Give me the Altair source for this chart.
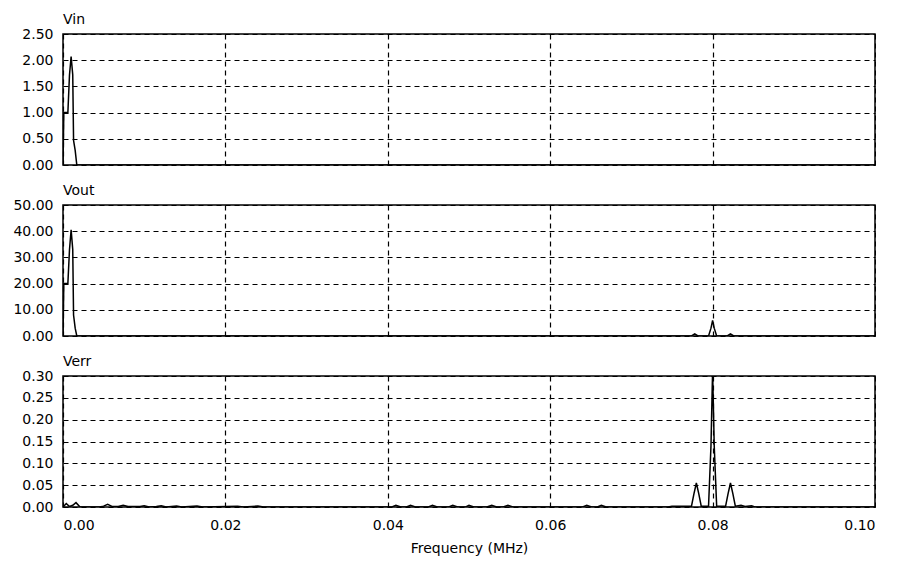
import altair as alt
import pandas as pd

# ---- data ----
x_ticks = [0.0, 0.02, 0.04, 0.06, 0.08, 0.10]

vin_freq = [0.0, 0.0001, 0.0006, 0.0008, 0.0010, 0.0012, 0.0013, 0.0015, 0.0017, 0.1]
vin_val = [0.0, 1.0, 1.0, 1.72, 2.07, 1.72, 0.47, 0.28, 0.0, 0.0]

vout_freq = [0.0, 0.0001, 0.0006, 0.0008, 0.0010, 0.0012, 0.0013, 0.0015, 0.0017,
             0.0774, 0.0778, 0.0782, 0.0795, 0.0798, 0.0800, 0.0802, 0.0805,
             0.0818, 0.0822, 0.0826, 0.1]
vout_val = [0.0, 20.0, 20.0, 33.0, 40.5, 33.0, 8.0, 3.0, 0.0,
            0.0, 0.8, 0.0, 0.0, 3.0, 6.0, 3.0, 0.0,
            0.0, 0.8, 0.0, 0.0]

verr_freq = [0.0, 0.0004, 0.0008, 0.0012, 0.0016, 0.0021, 0.0045, 0.0050, 0.0055, 0.0061,
             0.0068, 0.0074, 0.0080, 0.0095, 0.0100, 0.0106, 0.0115, 0.0121, 0.0127,
             0.0140, 0.0146, 0.0165, 0.0172, 0.0215, 0.0222, 0.0240, 0.0247,
             0.0405, 0.0410, 0.0416, 0.0423, 0.0428, 0.0434, 0.0450, 0.0455, 0.0461,
             0.0475, 0.0480, 0.0486, 0.0496, 0.0500, 0.0506, 0.0522, 0.0528, 0.0534,
             0.0542, 0.0548, 0.0554, 0.0640, 0.0645, 0.0651, 0.0658, 0.0663, 0.0669,
             0.0745, 0.0750, 0.0774, 0.0777, 0.0780, 0.0783, 0.0786,
             0.0795, 0.0798, 0.07995, 0.0800, 0.08005, 0.0802, 0.0805,
             0.0816, 0.0819, 0.0822, 0.0825, 0.0828, 0.0835, 0.0840, 0.0848, 0.0852, 0.0856, 0.1]
verr_val = [0.0, 0.008, 0.001, 0.004, 0.010, 0.0, 0.0, 0.002, 0.006, 0.001,
            0.001, 0.004, 0.001, 0.001, 0.003, 0.0, 0.001, 0.003, 0.0,
            0.002, 0.0, 0.002, 0.0, 0.002, 0.0, 0.002, 0.0,
            0.0, 0.004, 0.0, 0.0, 0.004, 0.0, 0.0, 0.004, 0.0,
            0.0, 0.004, 0.0, 0.0, 0.004, 0.0, 0.0, 0.004, 0.0,
            0.0, 0.004, 0.0, 0.0, 0.004, 0.0, 0.0, 0.004, 0.0,
            0.0, 0.002, 0.002, 0.03, 0.055, 0.03, 0.002,
            0.002, 0.14, 0.27, 0.31, 0.27, 0.14, 0.002,
            0.002, 0.03, 0.055, 0.03, 0.002, 0.004, 0.001, 0.003, 0.0, 0.0, 0.0]

panels = [
    ("Vin", vin_freq, vin_val, [0, 2.5], [0, 0.5, 1.0, 1.5, 2.0, 2.5]),
    ("Vout", vout_freq, vout_val, [0, 50], [0, 10, 20, 30, 40, 50]),
    ("Verr", verr_freq, verr_val, [0, 0.3], [0, 0.05, 0.10, 0.15, 0.20, 0.25, 0.30]),
]

FONT = "DejaVu Sans"
W, H = 812, 131

charts = []
for i, (name, fx, fy, dom, yticks) in enumerate(panels):
    df = pd.DataFrame({"f": fx, "v": fy})
    last = i == len(panels) - 1
    if last:
        xaxis = alt.Axis(values=x_ticks, format=".2f", title="Frequency (MHz)",
                         labelPadding=11, titlePadding=9, titleFontSize=14,
                         titleFontWeight="normal", titleFont=FONT, titleColor="black")
    else:
        xaxis = alt.Axis(values=x_ticks, labels=False, title=None,
                         minExtent=0, maxExtent=0)
    c = alt.Chart(df).mark_line(color="black", strokeWidth=1.5, clip=True,
                                interpolate="linear").encode(
        x=alt.X("f:Q", scale=alt.Scale(domain=[0, 0.1], nice=False), axis=xaxis),
        y=alt.Y("v:Q", scale=alt.Scale(domain=dom, nice=False),
                axis=alt.Axis(values=yticks, format=".2f", title=None,
                              labelPadding=10, minExtent=54, maxExtent=54)),
    ).properties(
        width=W, height=H,
        title=alt.TitleParams(name, anchor="start", frame="group", fontSize=14,
                              fontWeight="normal", font=FONT, offset=0, color="black"),
    )
    charts.append(c)

chart = alt.vconcat(*charts, spacing=10).properties(
    padding={"left": 0, "top": 4, "right": 0, "bottom": 0}
).configure_view(
    stroke="black", strokeWidth=1.5
).configure_axis(
    grid=True, gridColor="black", gridDash=[5, 4], gridWidth=1.2, gridOpacity=1,
    domain=False, ticks=False, labelFont=FONT, labelFontSize=14,
    labelColor="black", labelFontWeight="normal",
)

chart.save("out.html", embed_options={"renderer": "svg", "actions": False})
